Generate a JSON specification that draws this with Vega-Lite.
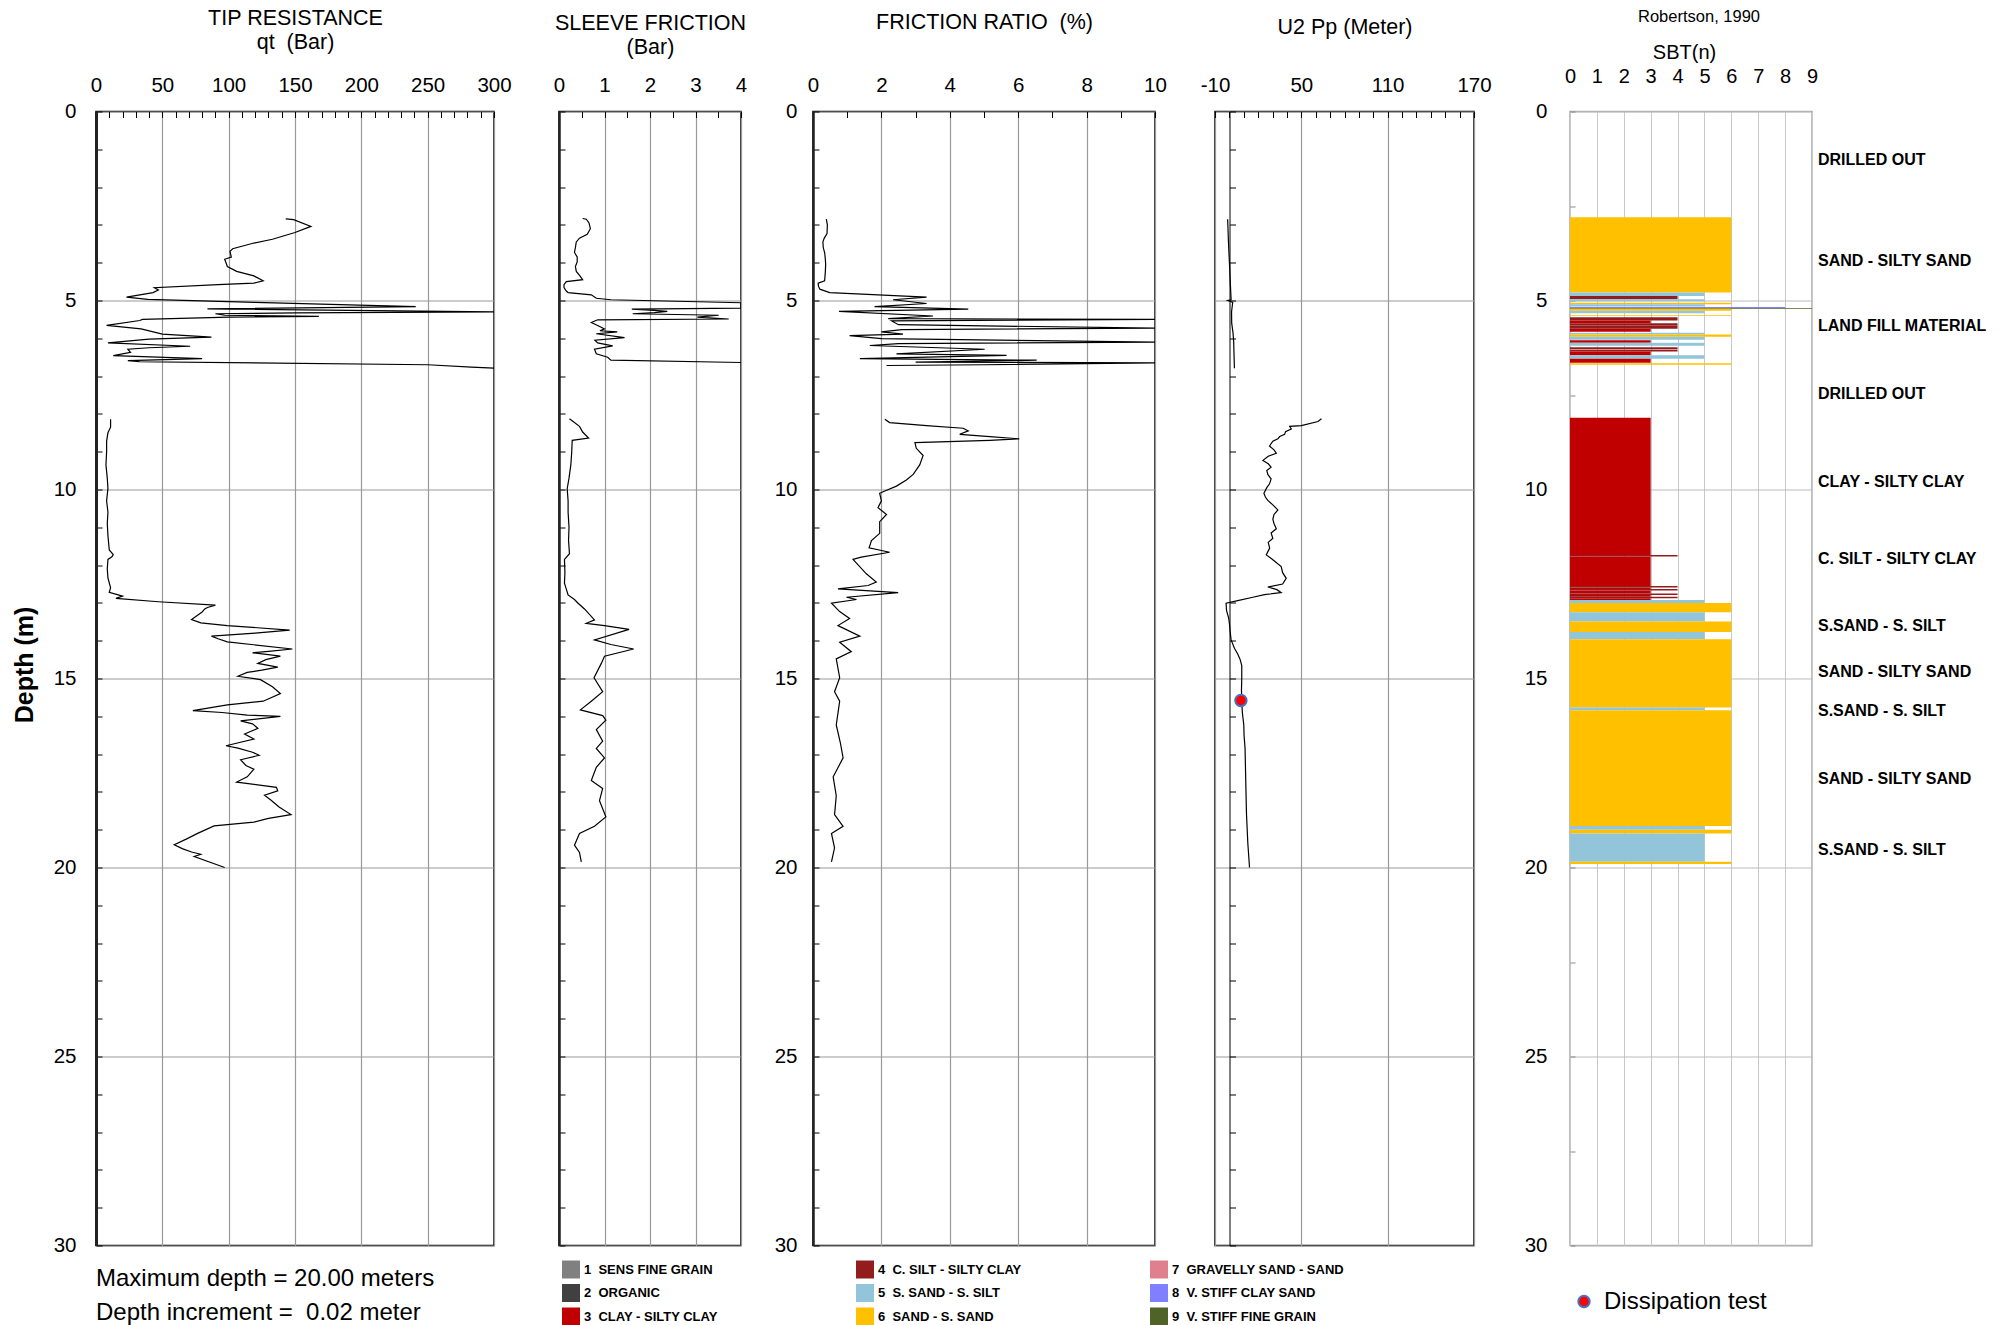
{
"$schema": "https://vega.github.io/schema/vega-lite/v6.json",
"background": "white",
"padding": {"left": 11, "top": 5.5, "right": 0, "bottom": 0},
"bounds": "flush",
"spacing": 0,
"resolve": {"scale": {"color": "independent"}, "legend": {"color": "independent"}},
"config": {
  "font": "Liberation Sans",
  "view": {"stroke": "#000", "strokeWidth": 1.5},
  "axis": {"labelFont": "Liberation Sans", "labelFontSize": 20.5, "labelColor": "#000", "titleFont": "Liberation Sans", "titleFontSize": 21.5, "titleFontWeight": "normal", "titleColor": "#000", "gridColor": "#999", "gridWidth": 1.2, "tickColor": "#000", "tickWidth": 1, "domainColor": "#000", "labelOverlap": false, "labelFlush": false, "labelBound": false},
  "legend": {"padding": 0},
  "title": {"color": "#000"}
},
"datasets": {
  "qt": [
    {"d":2.84,"v":143,"s":1},{"d":2.86,"v":149,"s":1},{"d":3.04,"v":162,"s":1},{"d":3.2,"v":150,"s":1},{"d":3.38,"v":133,"s":1},{"d":3.48,"v":119,"s":1},{"d":3.63,"v":103,"s":1},{"d":3.7,"v":101,"s":1},{"d":3.85,"v":102,"s":1},{"d":3.91,"v":97,"s":1},{"d":4.0,"v":98,"s":1},{"d":4.1,"v":99,"s":1},{"d":4.23,"v":106,"s":1},{"d":4.35,"v":119,"s":1},{"d":4.48,"v":126,"s":1},{"d":4.54,"v":119,"s":1},{"d":4.58,"v":92,"s":1},{"d":4.66,"v":44,"s":1},{"d":4.72,"v":47,"s":1},{"d":4.79,"v":43,"s":1},{"d":4.91,"v":23,"s":1},{"d":4.97,"v":39,"s":1},{"d":5.05,"v":120,"s":1},{"d":5.16,"v":241,"s":1},{"d":5.22,"v":84,"s":1},{"d":5.3,"v":300,"s":1},{"d":5.33,"v":150,"s":1},{"d":5.35,"v":90,"s":1},{"d":5.39,"v":97,"s":1},{"d":5.42,"v":168,"s":1},{"d":5.44,"v":100,"s":1},{"d":5.5,"v":35,"s":1},{"d":5.53,"v":33,"s":1},{"d":5.66,"v":8,"s":1},{"d":5.75,"v":34,"s":1},{"d":5.89,"v":50,"s":1},{"d":5.97,"v":87,"s":1},{"d":6.02,"v":40,"s":1},{"d":6.12,"v":9,"s":1},{"d":6.21,"v":71,"s":1},{"d":6.25,"v":40,"s":1},{"d":6.29,"v":24,"s":1},{"d":6.37,"v":26,"s":1},{"d":6.46,"v":13,"s":1},{"d":6.54,"v":80,"s":1},{"d":6.59,"v":24,"s":1},{"d":6.62,"v":33,"s":1},{"d":6.7,"v":250,"s":1},{"d":6.76,"v":283,"s":1},{"d":6.79,"v":300,"s":1},
    {"d":8.14,"v":11,"s":2},{"d":8.35,"v":11,"s":2},{"d":8.5,"v":9,"s":2},{"d":8.72,"v":8,"s":2},{"d":9.0,"v":8,"s":2},{"d":9.35,"v":7.5,"s":2},{"d":9.7,"v":8.5,"s":2},{"d":9.97,"v":9,"s":2},{"d":10.3,"v":8,"s":2},{"d":10.6,"v":9,"s":2},{"d":10.9,"v":8.5,"s":2},{"d":11.22,"v":9,"s":2},{"d":11.6,"v":10,"s":2},{"d":11.72,"v":13,"s":2},{"d":11.78,"v":12,"s":2},{"d":11.85,"v":9,"s":2},{"d":12.1,"v":8.5,"s":2},{"d":12.34,"v":9,"s":2},{"d":12.6,"v":11,"s":2},{"d":12.72,"v":10,"s":2},{"d":12.82,"v":20,"s":2},{"d":12.88,"v":15,"s":2},{"d":12.97,"v":47,"s":2},{"d":13.06,"v":90,"s":2},{"d":13.12,"v":84,"s":2},{"d":13.16,"v":82,"s":2},{"d":13.24,"v":80,"s":2},{"d":13.44,"v":72,"s":2},{"d":13.53,"v":79,"s":2},{"d":13.6,"v":99,"s":2},{"d":13.72,"v":146,"s":2},{"d":13.8,"v":120,"s":2},{"d":13.88,"v":87,"s":2},{"d":13.95,"v":92,"s":2},{"d":14.03,"v":99,"s":2},{"d":14.22,"v":148,"s":2},{"d":14.28,"v":130,"s":2},{"d":14.32,"v":118,"s":2},{"d":14.41,"v":139,"s":2},{"d":14.5,"v":128,"s":2},{"d":14.6,"v":122,"s":2},{"d":14.7,"v":137,"s":2},{"d":14.78,"v":125,"s":2},{"d":14.84,"v":114,"s":2},{"d":14.94,"v":107,"s":2},{"d":15.03,"v":124,"s":2},{"d":15.22,"v":133,"s":2},{"d":15.4,"v":139,"s":2},{"d":15.6,"v":126,"s":2},{"d":15.7,"v":99,"s":2},{"d":15.85,"v":73,"s":2},{"d":15.9,"v":95,"s":2},{"d":15.97,"v":114,"s":2},{"d":16.0,"v":139,"s":2},{"d":16.12,"v":109,"s":2},{"d":16.2,"v":118,"s":2},{"d":16.32,"v":122,"s":2},{"d":16.47,"v":112,"s":2},{"d":16.6,"v":119,"s":2},{"d":16.78,"v":98,"s":2},{"d":16.84,"v":107,"s":2},{"d":16.95,"v":118,"s":2},{"d":17.03,"v":123,"s":2},{"d":17.15,"v":109,"s":2},{"d":17.3,"v":113,"s":2},{"d":17.4,"v":119,"s":2},{"d":17.6,"v":114,"s":2},{"d":17.74,"v":106,"s":2},{"d":17.88,"v":136,"s":2},{"d":17.97,"v":137,"s":2},{"d":18.09,"v":127,"s":2},{"d":18.22,"v":132,"s":2},{"d":18.4,"v":138,"s":2},{"d":18.6,"v":147,"s":2},{"d":18.7,"v":130,"s":2},{"d":18.8,"v":119,"s":2},{"d":18.9,"v":89,"s":2},{"d":19.09,"v":77,"s":2},{"d":19.25,"v":68,"s":2},{"d":19.4,"v":59,"s":2},{"d":19.5,"v":65,"s":2},{"d":19.59,"v":72,"s":2},{"d":19.65,"v":79,"s":2},{"d":19.71,"v":74,"s":2},{"d":20.0,"v":97,"s":2}
  ],
  "fs": [
    {"d":2.83,"v":0.52,"s":1},{"d":2.85,"v":0.6,"s":1},{"d":2.95,"v":0.66,"s":1},{"d":3.1,"v":0.69,"s":1},{"d":3.25,"v":0.62,"s":1},{"d":3.35,"v":0.45,"s":1},{"d":3.45,"v":0.38,"s":1},{"d":3.6,"v":0.36,"s":1},{"d":3.73,"v":0.34,"s":1},{"d":3.85,"v":0.4,"s":1},{"d":3.98,"v":0.4,"s":1},{"d":4.1,"v":0.36,"s":1},{"d":4.23,"v":0.38,"s":1},{"d":4.35,"v":0.46,"s":1},{"d":4.45,"v":0.52,"s":1},{"d":4.5,"v":0.16,"s":1},{"d":4.58,"v":0.11,"s":1},{"d":4.66,"v":0.11,"s":1},{"d":4.75,"v":0.16,"s":1},{"d":4.79,"v":0.2,"s":1},{"d":4.85,"v":0.71,"s":1},{"d":4.94,"v":0.82,"s":1},{"d":4.98,"v":1.14,"s":1},{"d":5.06,"v":4.0,"s":1},{"d":5.2,"v":4.0,"s":1},{"d":5.23,"v":1.6,"s":1},{"d":5.26,"v":2.09,"s":1},{"d":5.29,"v":2.38,"s":1},{"d":5.32,"v":2.1,"s":1},{"d":5.35,"v":1.62,"s":1},{"d":5.39,"v":3.51,"s":1},{"d":5.44,"v":3.04,"s":1},{"d":5.49,"v":3.73,"s":1},{"d":5.51,"v":0.85,"s":1},{"d":5.58,"v":0.71,"s":1},{"d":5.66,"v":0.85,"s":1},{"d":5.75,"v":1.0,"s":1},{"d":5.8,"v":0.9,"s":1},{"d":5.83,"v":1.28,"s":1},{"d":5.88,"v":0.82,"s":1},{"d":5.98,"v":1.44,"s":1},{"d":6.05,"v":0.79,"s":1},{"d":6.12,"v":0.85,"s":1},{"d":6.2,"v":1.18,"s":1},{"d":6.29,"v":0.78,"s":1},{"d":6.41,"v":0.82,"s":1},{"d":6.5,"v":1.07,"s":1},{"d":6.58,"v":1.14,"s":1},{"d":6.64,"v":4.0,"s":1},
    {"d":8.13,"v":0.23,"s":2},{"d":8.33,"v":0.45,"s":2},{"d":8.48,"v":0.52,"s":2},{"d":8.64,"v":0.65,"s":2},{"d":8.7,"v":0.29,"s":2},{"d":9.0,"v":0.28,"s":2},{"d":9.35,"v":0.26,"s":2},{"d":9.7,"v":0.22,"s":2},{"d":9.98,"v":0.18,"s":2},{"d":10.3,"v":0.2,"s":2},{"d":10.6,"v":0.2,"s":2},{"d":11.0,"v":0.22,"s":2},{"d":11.35,"v":0.21,"s":2},{"d":11.7,"v":0.23,"s":2},{"d":11.85,"v":0.12,"s":2},{"d":12.2,"v":0.13,"s":2},{"d":12.48,"v":0.12,"s":2},{"d":12.79,"v":0.2,"s":2},{"d":12.91,"v":0.34,"s":2},{"d":13.01,"v":0.42,"s":2},{"d":13.16,"v":0.56,"s":2},{"d":13.45,"v":0.78,"s":2},{"d":13.54,"v":0.6,"s":2},{"d":13.6,"v":1.0,"s":2},{"d":13.7,"v":1.54,"s":2},{"d":13.98,"v":0.78,"s":2},{"d":14.1,"v":1.14,"s":2},{"d":14.22,"v":1.64,"s":2},{"d":14.41,"v":1.0,"s":2},{"d":14.6,"v":0.93,"s":2},{"d":14.98,"v":0.77,"s":2},{"d":15.35,"v":0.96,"s":2},{"d":15.6,"v":0.71,"s":2},{"d":15.83,"v":0.47,"s":2},{"d":15.98,"v":0.96,"s":2},{"d":16.1,"v":1.03,"s":2},{"d":16.35,"v":0.82,"s":2},{"d":16.66,"v":0.96,"s":2},{"d":16.85,"v":0.82,"s":2},{"d":17.1,"v":1.0,"s":2},{"d":17.35,"v":0.82,"s":2},{"d":17.7,"v":0.71,"s":2},{"d":17.91,"v":0.96,"s":2},{"d":18.23,"v":0.89,"s":2},{"d":18.66,"v":1.03,"s":2},{"d":18.91,"v":0.78,"s":2},{"d":19.1,"v":0.45,"s":2},{"d":19.41,"v":0.34,"s":2},{"d":19.6,"v":0.45,"s":2},{"d":19.85,"v":0.49,"s":2}
  ],
  "rf": [
    {"d":2.85,"v":0.39,"s":1},{"d":3.0,"v":0.42,"s":1},{"d":3.23,"v":0.41,"s":1},{"d":3.35,"v":0.33,"s":1},{"d":3.45,"v":0.29,"s":1},{"d":3.6,"v":0.3,"s":1},{"d":3.73,"v":0.34,"s":1},{"d":3.9,"v":0.36,"s":1},{"d":4.04,"v":0.37,"s":1},{"d":4.25,"v":0.36,"s":1},{"d":4.48,"v":0.34,"s":1},{"d":4.54,"v":0.15,"s":1},{"d":4.62,"v":0.16,"s":1},{"d":4.7,"v":0.2,"s":1},{"d":4.79,"v":0.49,"s":1},{"d":4.91,"v":3.32,"s":1},{"d":4.98,"v":2.34,"s":1},{"d":5.08,"v":3.32,"s":1},{"d":5.16,"v":1.8,"s":1},{"d":5.23,"v":4.54,"s":1},{"d":5.29,"v":0.76,"s":1},{"d":5.41,"v":3.51,"s":1},{"d":5.48,"v":2.2,"s":1},{"d":5.5,"v":10,"s":1},{"d":5.54,"v":2.3,"s":1},{"d":5.64,"v":2.5,"s":1},{"d":5.73,"v":10,"s":1},{"d":5.77,"v":2.6,"s":1},{"d":5.83,"v":2.0,"s":1},{"d":5.89,"v":2.63,"s":1},{"d":5.93,"v":1.07,"s":1},{"d":6.01,"v":2.0,"s":1},{"d":6.1,"v":10,"s":1},{"d":6.14,"v":2.5,"s":1},{"d":6.19,"v":1.66,"s":1},{"d":6.29,"v":5.02,"s":1},{"d":6.41,"v":2.44,"s":1},{"d":6.45,"v":5.66,"s":1},{"d":6.54,"v":1.37,"s":1},{"d":6.58,"v":6.54,"s":1},{"d":6.63,"v":3.0,"s":1},{"d":6.65,"v":10,"s":1},{"d":6.7,"v":5.0,"s":1},{"d":6.72,"v":2.15,"s":1},
    {"d":8.14,"v":2.1,"s":2},{"d":8.23,"v":2.24,"s":2},{"d":8.31,"v":3.32,"s":2},{"d":8.38,"v":4.39,"s":2},{"d":8.45,"v":4.54,"s":2},{"d":8.54,"v":4.29,"s":2},{"d":8.6,"v":5.17,"s":2},{"d":8.66,"v":6.03,"s":2},{"d":8.7,"v":5.17,"s":2},{"d":8.76,"v":2.98,"s":2},{"d":8.91,"v":3.02,"s":2},{"d":9.1,"v":3.22,"s":2},{"d":9.35,"v":3.12,"s":2},{"d":9.6,"v":2.93,"s":2},{"d":9.75,"v":2.73,"s":2},{"d":9.91,"v":2.44,"s":2},{"d":10.04,"v":2.1,"s":2},{"d":10.1,"v":1.95,"s":2},{"d":10.3,"v":2.0,"s":2},{"d":10.48,"v":1.9,"s":2},{"d":10.66,"v":2.15,"s":2},{"d":10.85,"v":1.95,"s":2},{"d":11.16,"v":1.95,"s":2},{"d":11.35,"v":1.71,"s":2},{"d":11.54,"v":1.64,"s":2},{"d":11.66,"v":2.24,"s":2},{"d":11.79,"v":1.41,"s":2},{"d":11.85,"v":1.17,"s":2},{"d":12.23,"v":1.56,"s":2},{"d":12.45,"v":1.85,"s":2},{"d":12.54,"v":1.61,"s":2},{"d":12.63,"v":0.73,"s":2},{"d":12.73,"v":2.49,"s":2},{"d":12.85,"v":0.98,"s":2},{"d":12.91,"v":1.27,"s":2},{"d":13.01,"v":0.54,"s":2},{"d":13.23,"v":0.78,"s":2},{"d":13.41,"v":1.07,"s":2},{"d":13.6,"v":0.73,"s":2},{"d":13.88,"v":1.37,"s":2},{"d":14.04,"v":0.78,"s":2},{"d":14.29,"v":1.12,"s":2},{"d":14.48,"v":0.68,"s":2},{"d":14.98,"v":0.78,"s":2},{"d":15.35,"v":0.63,"s":2},{"d":15.6,"v":0.78,"s":2},{"d":16.23,"v":0.68,"s":2},{"d":16.7,"v":0.8,"s":2},{"d":17.1,"v":0.88,"s":2},{"d":17.6,"v":0.59,"s":2},{"d":18.1,"v":0.68,"s":2},{"d":18.6,"v":0.63,"s":2},{"d":18.91,"v":0.88,"s":2},{"d":19.1,"v":0.54,"s":2},{"d":19.48,"v":0.63,"s":2},{"d":19.85,"v":0.54,"s":2}
  ],
  "u2": [
    {"d":2.85,"v":-1.2,"s":1},{"d":3.5,"v":-0.6,"s":1},{"d":3.98,"v":0,"s":1},{"d":4.5,"v":0.6,"s":1},{"d":4.98,"v":1.2,"s":1},{"d":5.0,"v":-1.2,"s":1},{"d":5.05,"v":2.3,"s":1},{"d":5.3,"v":1.5,"s":1},{"d":5.6,"v":1.6,"s":1},{"d":5.85,"v":2.5,"s":1},{"d":6.1,"v":3.0,"s":1},{"d":6.4,"v":3.2,"s":1},{"d":6.79,"v":3.5,"s":1},
    {"d":8.13,"v":64,"s":2},{"d":8.2,"v":61.6,"s":2},{"d":8.31,"v":50,"s":2},{"d":8.33,"v":41.9,"s":2},{"d":8.4,"v":43,"s":2},{"d":8.47,"v":39,"s":2},{"d":8.54,"v":38.4,"s":2},{"d":8.6,"v":35,"s":2},{"d":8.66,"v":33.7,"s":2},{"d":8.72,"v":30.2,"s":2},{"d":8.85,"v":27.9,"s":2},{"d":8.95,"v":31,"s":2},{"d":9.04,"v":32.6,"s":2},{"d":9.12,"v":27,"s":2},{"d":9.23,"v":23.3,"s":2},{"d":9.32,"v":27,"s":2},{"d":9.41,"v":29,"s":2},{"d":9.5,"v":26,"s":2},{"d":9.6,"v":26.7,"s":2},{"d":9.72,"v":29,"s":2},{"d":9.85,"v":27.9,"s":2},{"d":9.95,"v":26,"s":2},{"d":10.1,"v":24,"s":2},{"d":10.2,"v":25,"s":2},{"d":10.29,"v":26.7,"s":2},{"d":10.4,"v":30,"s":2},{"d":10.54,"v":33.7,"s":2},{"d":10.66,"v":31,"s":2},{"d":10.79,"v":30.2,"s":2},{"d":10.9,"v":31,"s":2},{"d":11.04,"v":32.6,"s":2},{"d":11.15,"v":29,"s":2},{"d":11.29,"v":30.2,"s":2},{"d":11.4,"v":27,"s":2},{"d":11.55,"v":28,"s":2},{"d":11.73,"v":25.6,"s":2},{"d":11.85,"v":30,"s":2},{"d":12.04,"v":36,"s":2},{"d":12.2,"v":37,"s":2},{"d":12.35,"v":39.5,"s":2},{"d":12.5,"v":37,"s":2},{"d":12.58,"v":26.7,"s":2},{"d":12.65,"v":33,"s":2},{"d":12.73,"v":36,"s":2},{"d":12.78,"v":24.4,"s":2},{"d":12.85,"v":16.3,"s":2},{"d":12.94,"v":5.8,"s":2},{"d":13.01,"v":-2.3,"s":2},{"d":13.2,"v":-2,"s":2},{"d":13.4,"v":-0.5,"s":2},{"d":13.54,"v":0,"s":2},{"d":13.75,"v":0.5,"s":2},{"d":13.98,"v":1.2,"s":2},{"d":14.2,"v":3.5,"s":2},{"d":14.35,"v":5.8,"s":2},{"d":14.5,"v":7.5,"s":2},{"d":14.66,"v":8.6,"s":2},{"d":15.0,"v":8.6,"s":2},{"d":15.3,"v":8.4,"s":2},{"d":15.6,"v":8.6,"s":2},{"d":15.9,"v":9,"s":2},{"d":16.23,"v":10,"s":2},{"d":16.5,"v":10.2,"s":2},{"d":16.85,"v":10.9,"s":2},{"d":17.4,"v":11.2,"s":2},{"d":18.1,"v":11.6,"s":2},{"d":18.6,"v":11.9,"s":2},{"d":19.35,"v":12.8,"s":2},{"d":20.0,"v":14,"s":2}
  ],
  "diss": [{"d":15.58,"v":8}],
  "sbt": [
    {"t":2.8,"b":4.79,"n":6},{"t":4.79,"b":4.88,"n":5},{"t":4.88,"b":4.97,"n":4},{"t":4.97,"b":5.02,"n":5},{"t":5.06,"b":5.1,"n":6},{"t":5.1,"b":5.16,"n":5},{"t":5.17,"b":5.2,"n":8},{"t":5.2,"b":5.22,"n":9},{"t":5.22,"b":5.27,"n":6},{"t":5.27,"b":5.34,"n":5},{"t":5.39,"b":5.41,"n":6},{"t":5.44,"b":5.53,"n":4},{"t":5.53,"b":5.6,"n":3},{"t":5.6,"b":5.66,"n":4},{"t":5.66,"b":5.75,"n":4},{"t":5.75,"b":5.83,"n":3},{"t":5.85,"b":5.9,"n":5},{"t":5.9,"b":5.96,"n":6},{"t":5.96,"b":6.04,"n":5},{"t":6.05,"b":6.12,"n":3},{"t":6.12,"b":6.2,"n":5},{"t":6.24,"b":6.29,"n":4},{"t":6.3,"b":6.35,"n":4},{"t":6.35,"b":6.45,"n":3},{"t":6.45,"b":6.54,"n":5},{"t":6.54,"b":6.65,"n":3},{"t":6.66,"b":6.7,"n":6},
    {"t":8.1,"b":11.73,"n":3},{"t":11.73,"b":11.77,"n":4},{"t":11.77,"b":12.55,"n":3},{"t":12.55,"b":12.59,"n":4},{"t":12.59,"b":12.63,"n":3},{"t":12.63,"b":12.67,"n":4},{"t":12.67,"b":12.75,"n":3},{"t":12.75,"b":12.79,"n":4},{"t":12.79,"b":12.84,"n":3},{"t":12.84,"b":12.88,"n":4},{"t":12.88,"b":12.92,"n":3},
    {"t":12.92,"b":13.0,"n":5},{"t":13.0,"b":13.25,"n":6},{"t":13.25,"b":13.49,"n":5},{"t":13.49,"b":13.77,"n":6},{"t":13.77,"b":13.96,"n":5},{"t":13.96,"b":15.77,"n":6},{"t":15.77,"b":15.84,"n":5},{"t":15.84,"b":18.9,"n":6},{"t":18.9,"b":19.0,"n":5},{"t":19.0,"b":19.1,"n":6},{"t":19.1,"b":19.85,"n":5},{"t":19.85,"b":19.91,"n":6}
  ],
  "soil": [
    {"d":1.28,"lab":"DRILLED OUT"},{"d":3.95,"lab":"SAND - SILTY SAND"},{"d":5.68,"lab":"LAND FILL MATERIAL"},{"d":7.47,"lab":"DRILLED OUT"},{"d":9.8,"lab":"CLAY - SILTY CLAY"},{"d":11.84,"lab":"C. SILT - SILTY CLAY"},{"d":13.6,"lab":"S.SAND - S. SILT"},{"d":14.83,"lab":"SAND - SILTY SAND"},{"d":15.86,"lab":"S.SAND - S. SILT"},{"d":17.66,"lab":"SAND - SILTY SAND"},{"d":19.54,"lab":"S.SAND - S. SILT"}
  ]
},
"hconcat": [
  {
    "width": 398, "height": 1134,
    "data": {"name": "qt"},
    "title": {"text": ["Maximum depth = 20.00 meters", "\u00a0Depth increment =\u00a0\u00a00.02 meter"], "orient": "bottom", "anchor": "start", "frame": "group", "offset": 11, "baseline": "top", "font": "Liberation Sans", "fontSize": 24, "fontWeight": "normal", "lineHeight": 34},
    "mark": {"type": "line", "color": "#000", "strokeWidth": 1.2, "clip": true},
    "encoding": {
      "x": {"field": "v", "type": "quantitative", "scale": {"domain": [0, 300], "nice": false, "zero": false},
        "axis": {"orient": "top", "values": [0,10,20,30,40,50,60,70,80,90,100,110,120,130,140,150,160,170,180,190,200,210,220,230,240,250,260,270,280,290,300], "labelExpr": "datum.value % 50 === 0 ? '' + datum.value : ''", "tickSize": -6, "labelPadding": 22, "domain": false, "grid": true, "gridOpacity": {"condition": {"test": "datum.value % 50 === 0", "value": 1}, "value": 0}, "title": ["TIP RESISTANCE", "qt\u00a0\u00a0(Bar)"], "titleLineHeight": 24, "titlePadding": 22.5}},
      "y": {"field": "d", "type": "quantitative", "scale": {"domain": [0, 30], "reverse": true, "nice": false, "zero": false},
        "axis": {"orient": "left", "values": [0,1,2,3,4,5,6,7,8,9,10,11,12,13,14,15,16,17,18,19,20,21,22,23,24,25,26,27,28,29,30], "labelExpr": "datum.value % 5 === 0 ? '' + datum.value : ''", "tickSize": -6, "labelPadding": 26, "domainWidth": 3, "domainColor": "#222", "grid": true, "gridOpacity": {"condition": {"test": "datum.value % 5 === 0", "value": 1}, "value": 0}, "title": "Depth (m)", "titleFontWeight": "bold", "titleFontSize": 25, "titlePadding": 15.5, "titleY": 553}},
      "detail": {"field": "s", "type": "nominal"},
      "order": {"field": "d", "type": "quantitative"}
    }
  },
  {"width": 65, "height": 1134, "data": {"values": []}, "mark": "point", "view": {"stroke": "transparent"}},
  {
    "width": 182, "height": 1134,
    "data": {"name": "fs"},
    "mark": {"type": "line", "color": "#000", "strokeWidth": 1.2, "clip": true},
    "encoding": {
      "x": {"field": "v", "type": "quantitative", "scale": {"domain": [0, 4], "nice": false, "zero": false},
        "axis": {"orient": "top", "values": [0,0.5,1,1.5,2,2.5,3,3.5,4], "labelExpr": "datum.value % 1 === 0 ? '' + datum.value : ''", "tickSize": -6, "labelPadding": 22, "domain": false, "grid": true, "gridOpacity": {"condition": {"test": "datum.value % 1 === 0", "value": 1}, "value": 0}, "title": ["SLEEVE FRICTION", "(Bar)"], "titleLineHeight": 24, "titlePadding": 17}},
      "y": {"field": "d", "type": "quantitative", "scale": {"domain": [0, 30], "reverse": true, "nice": false, "zero": false},
        "axis": {"orient": "left", "values": [0,1,2,3,4,5,6,7,8,9,10,11,12,13,14,15,16,17,18,19,20,21,22,23,24,25,26,27,28,29,30], "labels": false, "tickSize": -6, "domainWidth": 2.5, "domainColor": "#222", "grid": true, "gridOpacity": {"condition": {"test": "datum.value % 5 === 0", "value": 1}, "value": 0}, "title": null}},
      "detail": {"field": "s", "type": "nominal"},
      "order": {"field": "d", "type": "quantitative"}
    }
  },
  {"width": 72, "height": 1134, "data": {"values": []}, "mark": "point", "view": {"stroke": "transparent"}},
  {
    "width": 342, "height": 1134,
    "data": {"name": "rf"},
    "mark": {"type": "line", "color": "#000", "strokeWidth": 1.2, "clip": true},
    "encoding": {
      "x": {"field": "v", "type": "quantitative", "scale": {"domain": [0, 10], "nice": false, "zero": false},
        "axis": {"orient": "top", "values": [0,1,2,3,4,5,6,7,8,9,10], "labelExpr": "datum.value % 2 === 0 ? '' + datum.value : ''", "tickSize": -6, "labelPadding": 22, "domain": false, "grid": true, "gridOpacity": {"condition": {"test": "datum.value % 2 === 0", "value": 1}, "value": 0}, "title": "FRICTION RATIO\u00a0\u00a0(%)", "titlePadding": 42}},
      "y": {"field": "d", "type": "quantitative", "scale": {"domain": [0, 30], "reverse": true, "nice": false, "zero": false},
        "axis": {"orient": "left", "values": [0,1,2,3,4,5,6,7,8,9,10,11,12,13,14,15,16,17,18,19,20,21,22,23,24,25,26,27,28,29,30], "labelExpr": "datum.value % 5 === 0 ? '' + datum.value : ''", "tickSize": -6, "labelPadding": 22, "domainWidth": 2.5, "domainColor": "#222", "grid": true, "gridOpacity": {"condition": {"test": "datum.value % 5 === 0", "value": 1}, "value": 0}, "title": null}},
      "detail": {"field": "s", "type": "nominal"},
      "order": {"field": "d", "type": "quantitative"}
    }
  },
  {"width": 60, "height": 1134, "data": {"values": []}, "mark": "point", "view": {"stroke": "transparent"}},
  {
    "width": 259, "height": 1134,
    "layer": [
      {
        "data": {"name": "u2"},
        "mark": {"type": "line", "color": "#000", "strokeWidth": 1.2, "clip": true},
        "encoding": {
          "x": {"field": "v", "type": "quantitative", "scale": {"domain": [-10, 170], "nice": false, "zero": false},
            "axis": {"orient": "top", "values": [-10,0,10,20,30,40,50,60,70,80,90,100,110,120,130,140,150,160,170], "labelExpr": "(datum.value == -10 || datum.value == 50 || datum.value == 110 || datum.value == 170) ? '' + datum.value : ''", "tickSize": -6, "labelPadding": 22, "domain": false, "grid": true, "gridOpacity": {"condition": {"test": "datum.value == -10 || datum.value == 50 || datum.value == 110 || datum.value == 170", "value": 1}, "value": 0}, "title": "U2 Pp (Meter)", "titlePadding": 37}},
          "y": {"field": "d", "type": "quantitative", "scale": {"domain": [0, 30], "reverse": true, "nice": false, "zero": false},
            "axis": {"orient": "left", "offset": -14.5, "values": [0,1,2,3,4,5,6,7,8,9,10,11,12,13,14,15,16,17,18,19,20,21,22,23,24,25,26,27,28,29,30], "labels": false, "tickSize": -6, "domainWidth": 1, "domainColor": "#000", "grid": true, "gridOpacity": {"condition": {"test": "datum.value % 5 === 0", "value": 1}, "value": 0}, "title": null}},
          "detail": {"field": "s", "type": "nominal"},
          "order": {"field": "d", "type": "quantitative"}
        }
      },
      {
        "data": {"name": "diss"},
        "mark": {"type": "point", "filled": true, "size": 130, "stroke": "#4472C4", "strokeWidth": 2, "opacity": 1},
        "encoding": {
          "x": {"field": "v", "type": "quantitative",
            "axis": {"orient": "top", "values": [-10,0,10,20,30,40,50,60,70,80,90,100,110,120,130,140,150,160,170], "labelExpr": "(datum.value == -10 || datum.value == 50 || datum.value == 110 || datum.value == 170) ? '' + datum.value : ''", "tickSize": -6, "labelPadding": 22, "domain": false, "grid": true, "gridOpacity": {"condition": {"test": "datum.value == -10 || datum.value == 50 || datum.value == 110 || datum.value == 170", "value": 1}, "value": 0}, "title": "U2 Pp (Meter)", "titlePadding": 37}},
          "y": {"field": "d", "type": "quantitative",
            "axis": {"orient": "left", "offset": -14.5, "values": [0,1,2,3,4,5,6,7,8,9,10,11,12,13,14,15,16,17,18,19,20,21,22,23,24,25,26,27,28,29,30], "labels": false, "tickSize": -6, "domainWidth": 1, "domainColor": "#000", "grid": true, "gridOpacity": {"condition": {"test": "datum.value % 5 === 0", "value": 1}, "value": 0}, "title": null}},
          "color": {"datum": "Dissipation test", "type": "nominal", "scale": {"range": ["#ff0000"]},
            "legend": {"orient": "none", "legendX": 357, "legendY": 1178, "title": null, "symbolType": "circle", "symbolSize": 130, "symbolStrokeColor": "#4472C4", "symbolStrokeWidth": 2, "symbolOpacity": 1, "labelFont": "Liberation Sans", "labelFontSize": 24, "labelOffset": 8, "labelLimit": 400, "labelColor": "#000"}}
        }
      }
    ]
  },
  {"width": 96, "height": 1134, "data": {"values": []}, "mark": "point", "view": {"stroke": "transparent"}},
  {
    "width": 242, "height": 1134,
    "view": {"stroke": "#aaa", "strokeWidth": 1.5},
    "title": {"text": "Robertson, 1990", "frame": "group", "anchor": "middle", "offset": 17, "dx": 8, "font": "Liberation Sans", "fontSize": 16.5, "fontWeight": "normal"},
    "layer": [
      {
        "data": {"name": "sbt"},
        "mark": {"type": "rect", "strokeWidth": 0},
        "encoding": {
          "x": {"field": "n", "type": "quantitative", "scale": {"domain": [0, 9], "nice": false, "zero": false},
            "axis": {"orient": "top", "values": [0,1,2,3,4,5,6,7,8,9], "labelExpr": "'' + datum.value", "ticks": false, "labelPadding": 25, "labelFontSize": 20, "domain": false, "grid": true, "gridColor": "#c8c8c8", "gridWidth": 1, "title": "SBT(n)", "titleFontSize": 20, "titlePadding": 4, "titleX": 114}},
          "x2": {"datum": 0},
          "y": {"field": "t", "type": "quantitative", "scale": {"domain": [0, 30], "reverse": true, "nice": false, "zero": false},
            "axis": {"orient": "left", "values": [0,2.5,5,7.5,10,12.5,15,17.5,20,22.5,25,27.5,30], "labelExpr": "datum.value % 5 === 0 ? '' + datum.value : ''", "tickSize": -5, "tickColor": "#888", "labelPadding": 28, "domain": false, "grid": true, "gridColor": "#bbb", "gridOpacity": {"condition": {"test": "datum.value % 5 === 0", "value": 1}, "value": 0}, "title": null}},
          "y2": {"field": "b"},
          "color": {"field": "n", "type": "nominal",
            "scale": {"domain": [1,4,7,2,5,8,3,6,9], "range": ["#808080","#931C1C","#E0808F","#404040","#92C5DA","#7F7FFF","#C00000","#FFC000","#4F6228"]},
            "legend": {"orient": "none", "legendX": -1008, "legendY": 1149, "direction": "horizontal", "columns": 3, "title": null, "symbolType": "square", "symbolSize": 324, "symbolStrokeWidth": 0, "symbolOpacity": 1, "labelFont": "Liberation Sans", "labelFontWeight": "bold", "labelFontSize": 13, "labelColor": "#000", "labelOffset": 4, "rowPadding": 5.5, "columnPadding": 100, "gridAlign": "all", "labelLimit": 300,
              "labelExpr": "datum.value == 1 ? '1\u00a0\u00a0SENS FINE GRAIN' : datum.value == 2 ? '2\u00a0\u00a0ORGANIC' : datum.value == 3 ? '3\u00a0\u00a0CLAY - SILTY CLAY' : datum.value == 4 ? '4\u00a0\u00a0C. SILT - SILTY CLAY' : datum.value == 5 ? '5\u00a0\u00a0S. SAND - S. SILT' : datum.value == 6 ? '6\u00a0\u00a0SAND - S. SAND' : datum.value == 7 ? '7\u00a0\u00a0GRAVELLY SAND - SAND' : datum.value == 8 ? '8\u00a0\u00a0V. STIFF CLAY SAND' : '9\u00a0\u00a0V. STIFF FINE GRAIN'"}}
        }
      },
      {
        "data": {"name": "soil"},
        "mark": {"type": "text", "align": "left", "baseline": "middle", "dx": 6, "font": "Liberation Sans", "fontWeight": "bold", "fontSize": 16, "color": "#000"},
        "encoding": {
          "x": {"datum": 9, "type": "quantitative",
            "axis": {"orient": "top", "values": [0,1,2,3,4,5,6,7,8,9], "labelExpr": "'' + datum.value", "ticks": false, "labelPadding": 25, "labelFontSize": 20, "domain": false, "grid": true, "gridColor": "#c8c8c8", "gridWidth": 1, "title": "SBT(n)", "titleFontSize": 20, "titlePadding": 4, "titleX": 114}},
          "y": {"field": "d", "type": "quantitative",
            "axis": {"orient": "left", "values": [0,2.5,5,7.5,10,12.5,15,17.5,20,22.5,25,27.5,30], "labelExpr": "datum.value % 5 === 0 ? '' + datum.value : ''", "tickSize": -5, "tickColor": "#888", "labelPadding": 28, "domain": false, "grid": true, "gridColor": "#bbb", "gridOpacity": {"condition": {"test": "datum.value % 5 === 0", "value": 1}, "value": 0}, "title": null}},
          "text": {"field": "lab"}
        }
      }
    ]
  }
]
}
